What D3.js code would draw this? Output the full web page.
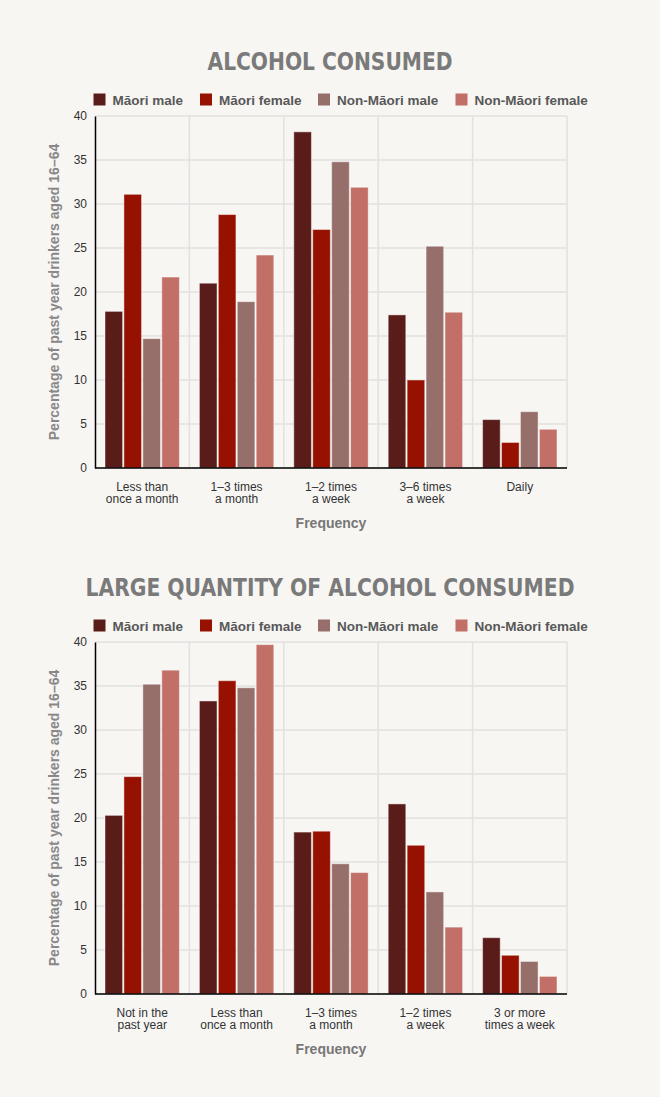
<!DOCTYPE html>
<html>
<head>
<meta charset="utf-8">
<script src="https://cdn.jsdelivr.net/npm/d3@7"></script>
<style>
  html, body { margin: 0; padding: 0; background: #f7f6f3; }
  svg { display: block; font-family: 'Liberation Sans', Arial, sans-serif; }
</style>
</head>
<body>
<svg id="chart" width="660" height="1097"></svg>
<script>
// series shared by both charts
const seriesNames = ['Māori male', 'Māori female', 'Non-Māori male', 'Non-Māori female'];
const seriesColors = ['#5a1c18', '#961100', '#966e6a', '#c16f67'];

// chart 1 - alcohol consumed
const consumedTitle = 'ALCOHOL CONSUMED';
const consumedCategories = [['Less than', 'once a month'], ['1–3 times', 'a month'], ['1–2 times', 'a week'], ['3–6 times', 'a week'], ['Daily']];
const consumedMaoriMale = [17.8, 21.0, 38.2, 17.4, 5.5];
const consumedMaoriFemale = [31.1, 28.8, 27.1, 10.0, 2.9];
const consumedNonMaoriMale = [14.7, 18.9, 34.8, 25.2, 6.4];
const consumedNonMaoriFemale = [21.7, 24.2, 31.9, 17.7, 4.4];

// chart 2 - large quantity of alcohol consumed
const largeTitle = 'LARGE QUANTITY OF ALCOHOL CONSUMED';
const largeCategories = [['Not in the', 'past year'], ['Less than', 'once a month'], ['1–3 times', 'a month'], ['1–2 times', 'a week'], ['3 or more', 'times a week']];
const largeMaoriMale = [20.3, 33.3, 18.4, 21.6, 6.4];
const largeMaoriFemale = [24.7, 35.6, 18.5, 16.9, 4.4];
const largeNonMaoriMale = [35.2, 34.8, 14.8, 11.6, 3.7];
const largeNonMaoriFemale = [36.8, 39.7, 13.8, 7.6, 2.0];

const yTicks = [0, 5, 10, 15, 20, 25, 30, 35, 40];
const yLabel = 'Percentage of past year drinkers aged 16–64';
const xLabel = 'Frequency';

const svg = d3.select('#chart');
const plot = { left: 95, right: 567, height: 352 };
const legendX = [93.5, 200, 318, 455.5];

function drawChart(top, title, titleWidth, categories, values) {
  const g = svg.append('g');

  // title
  g.append('text')
    .attr('x', 330)
    .attr('y', top - 46)
    .attr('text-anchor', 'middle')
    .attr('textLength', titleWidth)
    .attr('lengthAdjust', 'spacingAndGlyphs')
    .style('font-family', "'DejaVu Sans Condensed', 'DejaVu Sans', sans-serif")
    .style('font-weight', 'bold')
    .style('font-size', '25px')
    .style('fill', '#7a7a7a')
    .text(title);

  // legend
  const legend = g.selectAll('.legend-item')
    .data(seriesNames)
    .enter()
    .append('g')
    .attr('class', 'legend-item')
    .attr('transform', (d, i) => `translate(${legendX[i]},${top - 22.5})`);

  legend.append('rect')
    .attr('width', 12)
    .attr('height', 12)
    .attr('fill', (d, i) => seriesColors[i]);

  legend.append('text')
    .attr('x', 19)
    .attr('y', 11)
    .style('font-weight', 'bold')
    .style('font-size', '13.5px')
    .style('fill', '#585858')
    .text(d => d);

  const x = d3.scaleBand()
    .domain(categories.map((c, i) => i))
    .range([plot.left, plot.right]);

  const xInner = d3.scaleBand()
    .domain(seriesNames.map((s, i) => i))
    .range([10, x.bandwidth() - 10])
    .paddingInner(0.07);

  const y = d3.scaleLinear()
    .domain([0, 40])
    .range([top + plot.height, top]);

  // grid
  g.append('g')
    .selectAll('line')
    .data(yTicks)
    .enter()
    .append('line')
    .attr('x1', plot.left)
    .attr('x2', plot.right)
    .attr('y1', d => y(d))
    .attr('y2', d => y(d))
    .attr('stroke', '#e3e1df')
    .attr('stroke-width', 1.5);

  g.append('g')
    .selectAll('line')
    .data(d3.range(1, categories.length + 1))
    .enter()
    .append('line')
    .attr('x1', d => plot.left + d * x.bandwidth())
    .attr('x2', d => plot.left + d * x.bandwidth())
    .attr('y1', top)
    .attr('y2', top + plot.height)
    .attr('stroke', '#e3e1df')
    .attr('stroke-width', 1.5);

  // bars
  values.forEach((vals, si) => {
    g.append('g')
      .selectAll('rect')
      .data(vals)
      .enter()
      .append('rect')
      .attr('x', (d, i) => x(i) + xInner(si))
      .attr('y', d => y(d))
      .attr('width', xInner.bandwidth())
      .attr('height', d => y(0) - y(d))
      .attr('fill', seriesColors[si])
      .attr('stroke', 'rgba(255,255,255,0.45)')
      .attr('stroke-width', 1);
  });

  // y axis
  const yAxis = d3.axisLeft(y)
    .tickValues(yTicks)
    .tickSize(0)
    .tickPadding(8);

  const yg = g.append('g')
    .attr('transform', `translate(${plot.left},0)`)
    .call(yAxis);
  yg.select('.domain').attr('stroke', '#000').attr('stroke-width', 1.5);
  yg.selectAll('.tick text')
    .style('font-family', "'Liberation Sans', Arial, sans-serif")
    .style('font-size', '12px')
    .style('fill', '#333');

  // x axis line
  g.append('line')
    .attr('x1', plot.left)
    .attr('x2', plot.right)
    .attr('y1', y(0))
    .attr('y2', y(0))
    .attr('stroke', '#000')
    .attr('stroke-width', 1.5);

  // x tick labels
  const xt = g.append('g')
    .selectAll('text')
    .data(categories)
    .enter()
    .append('text')
    .attr('x', (d, i) => x(i) + x.bandwidth() / 2)
    .attr('y', y(0) + 22.5)
    .attr('text-anchor', 'middle')
    .style('font-size', '12px')
    .style('fill', '#333');

  xt.selectAll('tspan')
    .data(d => d)
    .enter()
    .append('tspan')
    .attr('x', function () { return d3.select(this.parentNode).attr('x'); })
    .attr('dy', (d, i) => i === 0 ? 0 : 12)
    .text(d => d);

  // axis titles
  g.append('text')
    .attr('x', (plot.left + plot.right) / 2)
    .attr('y', y(0) + 60)
    .attr('text-anchor', 'middle')
    .style('font-weight', 'bold')
    .style('font-size', '14px')
    .style('fill', '#777')
    .text(xLabel);

  g.append('text')
    .attr('transform', `translate(58.5,${top + plot.height / 2}) rotate(-90)`)
    .attr('text-anchor', 'middle')
    .style('font-weight', 'bold')
    .style('font-size', '14px')
    .style('fill', '#888')
    .text(yLabel);
}

drawChart(116, consumedTitle, 245, consumedCategories,
  [consumedMaoriMale, consumedMaoriFemale, consumedNonMaoriMale, consumedNonMaoriFemale]);

drawChart(642, largeTitle, 489, largeCategories,
  [largeMaoriMale, largeMaoriFemale, largeNonMaoriMale, largeNonMaoriFemale]);
</script>
</body>
</html>
